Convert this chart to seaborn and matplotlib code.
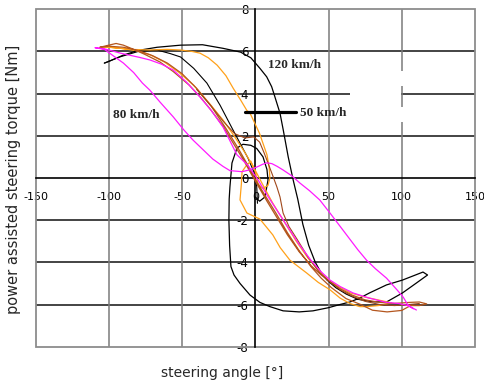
import matplotlib
matplotlib.use("Agg")
import matplotlib.pyplot as plt
from matplotlib.patches import Rectangle
import seaborn as sns
import pandas as pd

# ---- measured hysteresis loops: steering angle [deg] vs assist torque [Nm] ----
black_a_angle = [-103, -101, -90, -80, -67, -51, -36, -22, -10, -3, 3.2, 7.8, 11.2, 13.4,
                 16.9, 19.1, 22.5, 25.9, 29, 32.5, 36.5, 41, 45, 49, 55, 62, 70, 80, 89.6,
                 100.5, 110, 117.6, 114.5, 100.5, 89.6, 78, 71.4, 64.6, 57.8, 50, 39.4, 30,
                 19, 10, 3.2, -3.6, -10.4, -14.5, -16.6, -17.5, -18, -17.8, -17.3, -15.9,
                 -12.5, -8.4, -3, 1, 5.3, 8, 8.7, 6.6, 3, 0]
black_a_torque = [5.45, 5.5, 5.83, 6.05, 6.2, 6.3, 6.32, 6.15, 5.97, 5.7, 5.2, 4.8, 4.33, 3.85,
                  3.07, 2.28, 1.0, -0.1, -1.0, -2.2, -3.2, -4.0, -4.5, -4.84, -5.2, -5.5, -5.75,
                  -5.87, -5.88, -5.45, -4.98, -4.6, -4.46, -4.84, -5.07, -5.45, -5.69, -5.88,
                  -6.0, -6.15, -6.3, -6.35, -6.3, -6.1, -5.9, -5.55, -5.0, -4.6, -4.2, -3.2,
                  -2.0, -1.0, -0.43, 0.71, 1.42, 1.6, 1.55, 1.4, 1.0, 0.4, -0.1, -0.9, -1.1, -0.9]

black_b_angle = [-103, -92, -80, -67, -58, -51, -42, -33, -24, -15.2, -10, -5, -1, 1, 1.5]
black_b_torque = [5.45, 5.75, 6.0, 6.07, 5.9, 5.74, 5.2, 4.5, 3.45, 2.28, 1.6, 0.95, 0.3, -0.4, -1.2]

orange_angle = [-104, -99, -85, -72, -60, -51, -43, -37.7, -32, -26, -20, -15, -10, -5.7, -3.6,
                0, 3, 6, 8, 9.5, 10, 8.7, 5.3, 2, 0, -3, -6, -9, -9.5, -10.4, -5.7, 3.2, 12,
                17, 23.7, 35, 43, 51, 58, 64.6, 71.4, 76, 84, 89.6, 93, 85, 75, 65, 57, 50, 43,
                36, 28, 20, 12, 5, -1, -7, -14, -22, -32, -42, -52, -62, -72, -82, -92, -100, -104]
orange_torque = [6.22, 6.2, 6.1, 6.07, 6.1, 6.07, 6.0, 5.92, 5.7, 5.35, 4.85, 4.25, 3.7, 3.2, 3.08,
                 2.55, 2.1, 1.5, 1.1, 0.5, 0.0, -0.35, -0.5, -0.3, 0.3, 0.8, 0.6, 0.3, -0.3, -1.04,
                 -1.66, -1.95, -2.7, -3.3, -3.9, -4.5, -4.95, -5.3, -5.7, -5.95, -6.1, -6.1, -6.05,
                 -5.97, -5.92, -5.8, -5.65, -5.45, -5.15, -4.85, -4.35, -3.8, -3.0, -2.1, -1.2,
                 -0.3, 0.5, 1.2, 1.95, 2.75, 3.6, 4.4, 5.0, 5.5, 5.85, 6.05, 6.15, 6.2, 6.22]

brown_angle = [-106, -100, -95, -90, -83, -75, -65, -56, -45, -37, -30, -22, -15, -8, -2, 3, 8,
               15, 22, 30, 38, 45, 50, 58, 66, 75, 85, 95, 105, 112, 117, 112, 106, 100, 90, 80,
               72, 62, 52, 45, 38, 30, 22, 14, 6, 0, -5, -12, -20, -30, -40, -50, -60, -70, -80,
               -90, -100, -106]
brown_torque = [6.2, 6.3, 6.38, 6.3, 6.1, 5.85, 5.5, 5.05, 4.4, 3.8, 3.2, 2.45, 1.65, 0.85, 0.1,
                -0.5, -1.1, -1.9, -2.7, -3.5, -4.15, -4.6, -4.87, -5.25, -5.55, -5.78, -5.9,
                -5.95, -5.9, -5.88, -5.97, -6.05, -6.05, -6.28, -6.35, -6.27, -6.0, -5.72, -5.2,
                -4.75, -4.2, -3.45, -2.6, -1.65, -0.75, -0.05, 0.6, 1.45, 2.35, 3.4, 4.25, 4.95,
                5.45, 5.8, 6.05, 6.2, 6.25, 6.2]

brown_b_angle = [-40, -30, -22, -14, -7, -1, 3, 6, 8.7, 12, 14.8, 16.9, 19, 23, 28.5, 36, 44, 50,
                 58, 66, 75, 85, 95, 105, 112]
brown_b_torque = [4.2, 3.4, 2.7, 2.1, 1.9, 1.95, 1.7, 1.2, 0.71, 0.1, -0.43, -0.9, -1.66, -2.3,
                  -2.9, -3.75, -4.5, -4.87, -5.3, -5.6, -5.85, -6.0, -6.05, -6.0, -5.95]

magenta_angle = [108, 104, 98, 89.6, 78, 66.7, 58, 51, 45, 38, 30, 22, 15, 8, 2, -5, -12.5, -22,
                 -30, -37.7, -47, -56, -64, -72, -79, -92, -102.6, -109.4, -103, -96, -90, -83,
                 -77, -72, -65, -56, -49, -42.5, -35, -29, -22, -17.3, -9, -3, 2, 5, 8, 11.4, 15,
                 19, 25, 30.5, 37, 44, 51, 58, 64, 70, 76, 82, 89.6, 96.7, 101, 104, 107, 110]
magenta_torque = [-6.2, -6.05, -5.95, -5.9, -5.7, -5.45, -5.15, -4.84, -4.45, -3.9, -3.15, -2.3,
                  -1.55, -0.8, -0.1, 0.6, 1.1, 2.42, 3.2, 3.84, 4.55, 5.12, 5.4, 5.6, 5.72, 5.92,
                  6.12, 6.18, 6.1, 5.75, 5.45, 5.0, 4.5, 4.17, 3.6, 2.9, 2.3, 1.8, 1.3, 0.9, 0.55,
                  0.35, 0.3, 0.4, 0.55, 0.65, 0.72, 0.68, 0.55, 0.38, 0.1, -0.24, -0.6, -1.04,
                  -1.66, -2.3, -2.85, -3.4, -3.9, -4.3, -4.75, -5.3, -5.65, -6.0, -6.15, -6.26]

x_ticks = [-150, -100, -50, 0, 50, 100, 150]
y_ticks = [-8, -6, -4, -2, 0, 2, 4, 6, 8]

sns.set_theme(style="white")
plt.rcParams["axes.unicode_minus"] = False

fig = plt.figure(figsize=(4.85, 3.85), dpi=100)
ax = fig.add_axes([0.0732, 0.0995, 0.9062, 0.8763])
ax.set_xlim(-150, 150)
ax.set_ylim(-8, 8)

# grid: dark horizontal lines, grey vertical lines
for yv in [-6, -4, -2, 2, 4, 6]:
    ax.axhline(yv, color="#111111", lw=1.1, zorder=1)
for xv in [-100, -50, 50, 100]:
    ax.axvline(xv, color="#7a7a7a", lw=1.1, zorder=1)

# blank patch in the upper right
ax.add_patch(Rectangle((64.6, 2.66), 34.9, 2.4, facecolor="white", edgecolor="none", zorder=1.5))
ax.add_patch(Rectangle((99, 4.37), 2.5, 0.7, facecolor="white", edgecolor="none", zorder=1.5))
ax.add_patch(Rectangle((99, 2.66), 2.5, 0.7, facecolor="white", edgecolor="none", zorder=1.5))

series = [
    (black_a_angle, black_a_torque, "black", 0.9),
    (black_b_angle, black_b_torque, "black", 0.8),
    (orange_angle, orange_torque, "#ffa11a", 0.9),
    (brown_angle, brown_torque, "#b4561e", 0.9),
    (brown_b_angle, brown_b_torque, "#a0471a", 0.8),
    (magenta_angle, magenta_torque, "#ff1aff", 0.9),
]
for ang, tq, col, lw in series:
    df = pd.DataFrame({"angle": ang, "torque": tq})
    sns.lineplot(data=df, x="angle", y="torque", sort=False, estimator=None,
                 color=col, lw=lw, ax=ax, zorder=3)

# axes crossing at the origin, grey outer frame
for side in ["top", "right"]:
    ax.spines[side].set_visible(False)
ax.spines["left"].set_position(("data", 0))
ax.spines["bottom"].set_position(("data", 0))
for side in ["left", "bottom"]:
    ax.spines[side].set_color("black")
    ax.spines[side].set_linewidth(1.2)
    ax.spines[side].set_zorder(2)
ax.add_patch(Rectangle((0, 0), 1, 1, transform=ax.transAxes, fill=False,
                       edgecolor="#8c8c8c", lw=1.3, zorder=2, clip_on=False))

narrow = ["Liberation Sans Narrow", "DejaVu Sans"]
ax.set_xticks(x_ticks)
ax.set_yticks(y_ticks)
ax.set_xticklabels([str(v) for v in x_ticks], family=narrow, fontsize=8)
ax.set_yticklabels([str(v) for v in y_ticks], family=narrow, fontsize=8.5)
ax.tick_params(axis="x", length=0, pad=10, colors="black")
ax.tick_params(axis="y", direction="out", length=3, width=1, pad=2, colors="black")
ax.set_xlabel("")
ax.set_ylabel("")

# speed annotations
serif = ["Liberation Serif", "DejaVu Serif"]
ax.text(8.7, 5.36, "120 km/h", family=serif, fontweight="bold", fontsize=9.5,
        va="center", ha="left", zorder=5)
ax.text(30.5, 3.08, "50 km/h", family=serif, fontweight="bold", fontsize=9.5,
        va="center", ha="left", zorder=5)
ax.text(-97.1, 2.99, "80 km/h", family=serif, fontweight="bold", fontsize=9.5,
        va="center", ha="left", zorder=5)
ax.plot([-7, 27.8], [3.15, 3.15], color="black", lw=2.3, zorder=4)

fig.text(0.458, 0.031, "steering angle [°]", family=narrow,
         fontsize=10, ha="center", va="center")
fig.text(0.027, 0.533, "power assisted steering torque [Nm]", family=["DejaVu Sans"],
         fontsize=10.5, rotation=90, ha="center", va="center")

fig.savefig("out.png", dpi=100)
